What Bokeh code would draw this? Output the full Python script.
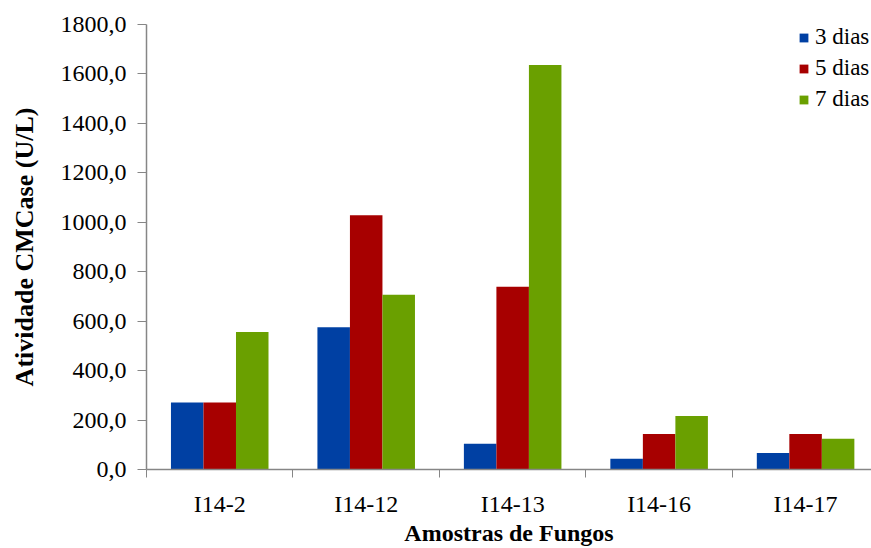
from bokeh.plotting import figure
from bokeh.models import FixedTicker, Range1d, Legend, LegendItem, ColumnDataSource
from bokeh.transform import dodge
from bokeh.embed import file_html
from bokeh.resources import INLINE

categories = ["I14-2", "I14-12", "I14-13", "I14-16", "I14-17"]
dias3 = [271, 575, 104, 43, 67]
dias5 = [271, 1028, 739, 144, 144]
dias7 = [556, 707, 1636, 216, 124]
series_names = ["3 dias", "5 dias", "7 dias"]
colors = ["#0040A3", "#A70000", "#6AA000"]
y_ticks = [0, 200, 400, 600, 800, 1000, 1200, 1400, 1600, 1800]

centers = [i + 0.5 for i in range(len(categories))]
source = ColumnDataSource(dict(x=centers, d3=dias3, d5=dias5, d7=dias7))

FONT = "'Liberation Serif', 'Times New Roman', serif"
AXIS_COLOR = "#868686"

p = figure(width=871, height=548, output_backend="svg", toolbar_location=None,
           x_range=Range1d(0, 4.95), y_range=Range1d(0, 1800),
           min_border_left=146, min_border_right=0, min_border_top=24,
           min_border_bottom=78)
p.outline_line_color = None
p.xgrid.visible = False
p.ygrid.visible = False

bw = 0.222
renderers = []
for off, col, c in zip([-bw, 0.0, bw], ["d3", "d5", "d7"], colors):
    r = p.vbar(x=dodge("x", off), top=col, width=bw, source=source,
               fill_color=c, line_color=None)
    renderers.append(r)

legend = Legend(items=[LegendItem(label=n, renderers=[r]) for n, r in zip(series_names, renderers)],
                location=(652, 357))
legend.glyph_width = 11
legend.glyph_height = 11
legend.label_standoff = 6
legend.spacing = 5
legend.padding = 0
legend.margin = 0
legend.border_line_color = None
legend.background_fill_alpha = 0
legend.label_text_font = FONT
legend.label_text_font_size = "23px"
legend.label_text_color = "#000000"
p.add_layout(legend)

# x axis
xa = p.xaxis[0]
xa.ticker = FixedTicker(ticks=centers, minor_ticks=list(range(len(categories) + 1)))
xa.major_label_overrides = {c: n for c, n in zip(centers, categories)}
xa.major_tick_out = 0
xa.major_tick_in = 0
xa.minor_tick_out = 8
xa.minor_tick_in = 0
xa.minor_tick_line_color = AXIS_COLOR
xa.axis_line_color = AXIS_COLOR
xa.axis_line_width = 1.5
xa.major_label_standoff = 13
xa.major_label_text_font = FONT
xa.major_label_text_font_size = "24px"
xa.major_label_text_color = "#000000"
xa.axis_label = "Amostras de Fungos"
xa.axis_label_text_font = FONT
xa.axis_label_text_font_size = "24px"
xa.axis_label_text_font_style = "bold"
xa.axis_label_text_color = "#000000"
xa.axis_label_standoff = 0

# y axis
ya = p.yaxis[0]
ya.ticker = FixedTicker(ticks=y_ticks, minor_ticks=[])
ya.major_label_overrides = {t: f"{t:.1f}".replace(".", ",") for t in y_ticks}
ya.major_tick_out = 9
ya.major_tick_in = 0
ya.major_tick_line_color = AXIS_COLOR
ya.minor_tick_line_color = None
ya.axis_line_color = AXIS_COLOR
ya.axis_line_width = 1.5
ya.major_label_standoff = 11
ya.major_label_text_font = FONT
ya.major_label_text_font_size = "24px"
ya.major_label_text_color = "#000000"
ya.axis_label = "Atividade CMCase (U/L)"
ya.axis_label_text_font = FONT
ya.axis_label_text_font_size = "26px"
ya.axis_label_text_font_style = "bold"
ya.axis_label_text_color = "#000000"
ya.axis_label_standoff = 19

open("out.html", "w").write(file_html(p, INLINE))
